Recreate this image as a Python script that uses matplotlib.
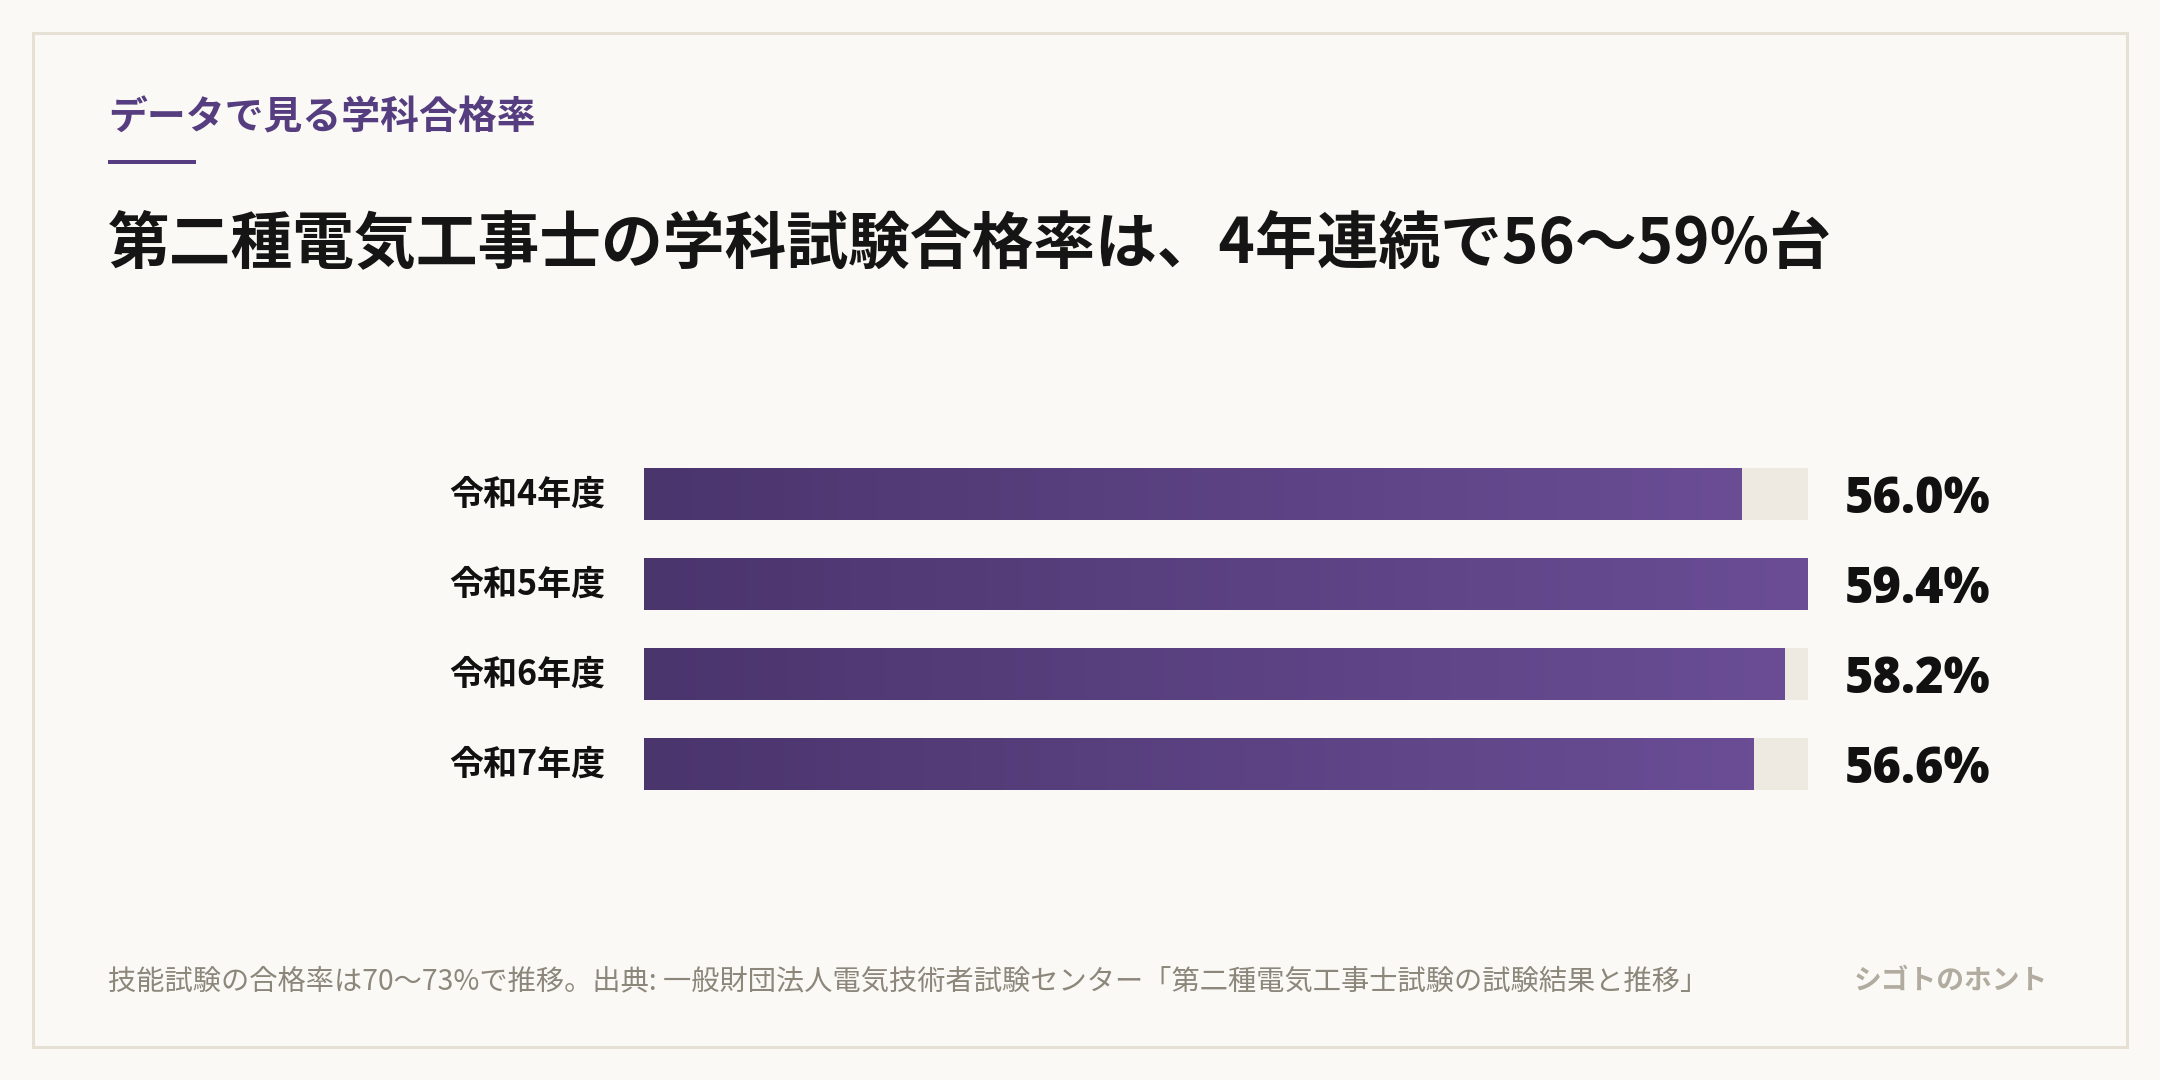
import numpy as np
import matplotlib.pyplot as plt
from matplotlib.patches import Rectangle
from matplotlib.colors import LinearSegmentedColormap

# Data
years = ["令和4年度", "令和5年度", "令和6年度", "令和7年度"]
rates = [56.0, 59.4, 58.2, 56.6]

kicker = "データで見る学科合格率"
title = "第二種電気工事士の学科試験合格率は、4年連続で56〜59%台"
note = "技能試験の合格率は70〜73%で推移。出典: 一般財団法人電気技術者試験センター「第二種電気工事士試験の試験結果と推移」"
brand = "シゴトのホント"

BG = "#faf9f5"
PURPLE = "#553d80"
TRACK = "#eeeae2"
JP = ["Noto Sans CJK JP", "DejaVu Sans"]

W, H = 2160, 1080
fig = plt.figure(figsize=(W / 100, H / 100), dpi=100, facecolor=BG)


def fx(px):
    return px / W


def fy(py):
    return 1 - py / H


# outer frame (kept behind the axes)
fig.patches.append(Rectangle((fx(33), fy(1047)), fx(2127) - fx(33), fy(33) - fy(1047),
                             transform=fig.transFigure, facecolor=BG,
                             edgecolor="#e6e0d5", linewidth=2.2, zorder=-10))

# header
fig.text(fx(108), fy(118), kicker, family=JP, weight="bold", fontsize=28,
         color=PURPLE, va="center", ha="left")
fig.patches.append(Rectangle((fx(108), fy(164)), fx(196) - fx(108), 4 / H,
                             transform=fig.transFigure, facecolor=PURPLE,
                             edgecolor="none", zorder=-5))
fig.text(fx(108), fy(244), title, family=JP, weight="bold", fontsize=44.5,
         color="#151515", va="center", ha="left")

# bars
ax = fig.add_axes([fx(644), fy(809), fx(1808) - fx(644), fy(449) - fy(809)])
ax.set_facecolor("none")
xmax = max(rates)
ypos = np.arange(len(years))
bh = 52 / 90

ax.barh(ypos, [xmax] * len(years), height=bh, color=TRACK, zorder=1)
bars = ax.barh(ypos, rates, height=bh, color="#5a4080", zorder=2)

cmap = LinearSegmentedColormap.from_list("bar", ["#4b356d", "#6a4d95"])
grad = np.linspace(0, 1, 256).reshape(1, -1)
for b, v, y in zip(bars, rates, ypos):
    im = ax.imshow(grad, cmap=cmap, aspect="auto", zorder=3,
                   extent=[0, v, y + bh / 2, y - bh / 2], interpolation="bicubic")
    im.set_clip_path(b)

for y, lab, v in zip(ypos, years, rates):
    ax.text(-0.033, y, lab, transform=ax.get_yaxis_transform(), family=JP,
            weight="bold", fontsize=24.5, color="#111111", ha="right", va="center")
    ax.text(1.032, y, f"{v:.1f}%", transform=ax.get_yaxis_transform(),
            family=["Open Sans", "DejaVu Sans"], weight="heavy", fontsize=35,
            color="#111111", ha="left", va="center_baseline")

ax.set_xlim(0, xmax)
ax.set_ylim(len(years) - 0.5, -0.5)
ax.axis("off")

# footer
fig.text(fx(108), fy(981), note, family=JP, fontsize=20.3, color="#8c867b",
         va="center", ha="left")
fig.text(fx(2048), fy(981), brand, family=JP, weight="bold", fontsize=20,
         color="#b2ab9f", va="center", ha="right")

fig.savefig("out.png", dpi=100, facecolor=BG)
